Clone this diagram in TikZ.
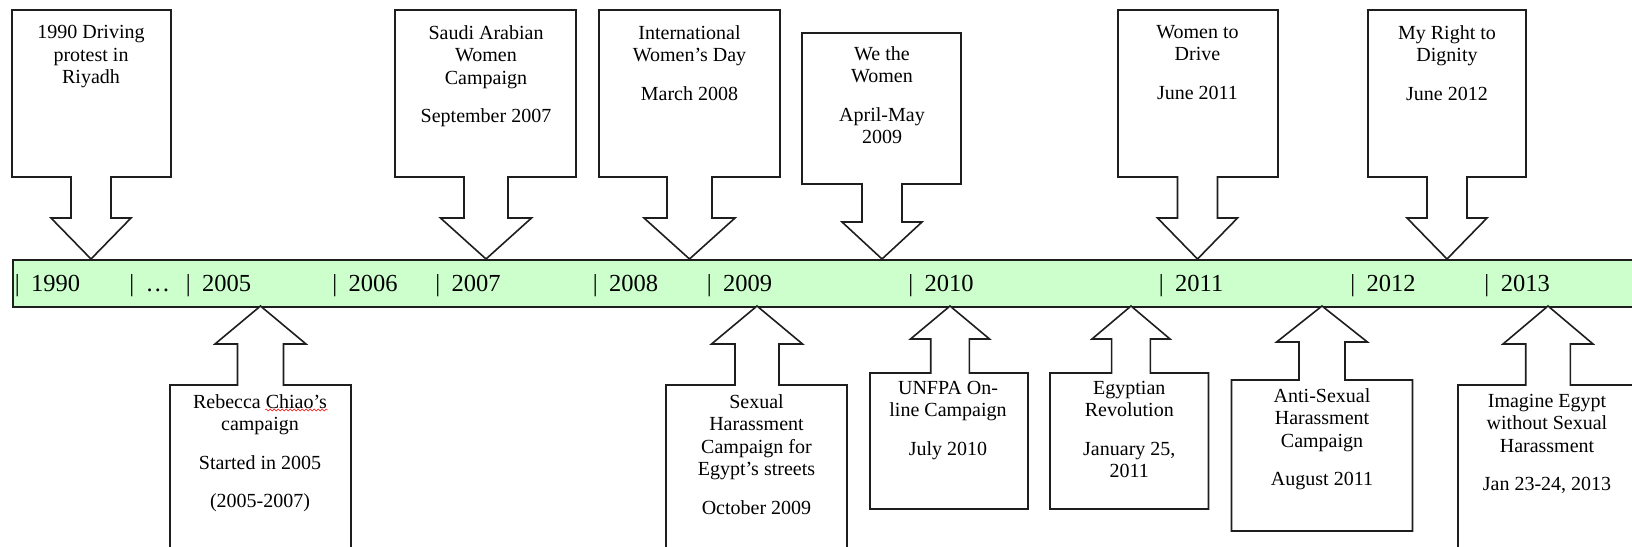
\documentclass[tikz,border=0pt]{standalone}
\usepackage{fontspec}
\setmainfont{Liberation Serif}
\usetikzlibrary{calc}
\usetikzlibrary{decorations.pathmorphing}
\definecolor{barfill}{RGB}{204,255,204}
\definecolor{outline}{RGB}{30,30,30}

\begin{document}
\begin{tikzpicture}[x=1pt, y=-1pt,
  callout/.style={draw=outline, line width=1.6pt, fill=white},
  evtext/.style={anchor=north, align=center, inner sep=0, font=\fontsize{20}{22.5}\selectfont},
  yearlbl/.style={anchor=base west, inner sep=0, font=\fontsize{24.5}{29}\selectfont}]
\clip (0,0) rectangle (1632,546);
% timeline bar
\node[draw=outline, line width=1.6pt, fill=barfill, anchor=north west, inner sep=0,
      minimum width=1640pt, minimum height=47pt] (bar) at (12,259) {};
\foreach \x/\yr [count=\i] in {17/1990, 131.5/…, 188/2005, 334.5/2006, 437.5/2007, 595/2008,
    709/2009, 910.5/2010, 1161/2011, 1352.5/2012, 1486.7/2013}
  \node[yearlbl] (yr\i) at (\x-2.45,291.5) {|\hspace{11.5pt}\yr};
% callouts: tip x / left / right / joint side / far side / shaft / head / head y / tip y
\foreach \tx/\l/\r/\j/\f/\s/\h/\hy/\ty in {
    91/12/171/177/10/20/40/218/259,
    486/395/576/177/10/22/45.5/218/259,
    689.5/599/780/177/10/22.5/45.5/218/259,
    882/802/961/184/33/20/40/222/259,
    1197.5/1118/1278/177/10/20/40/218/259,
    1447/1368/1526/177/10/20/40/218/259,
    260.5/170/351/385/560/23/45.5/344/306,
    757/666/847/385/560/22/45.5/344/306,
    950/870/1028/373/509/19.3/39.5/339/306,
    1131/1050/1208.5/373/509/19.4/39/339/306,
    1322/1231.5/1412.5/380/531/23/45.4/342/306,
    1548/1458/1640/385/560/22.3/45/344/306}
  \draw[callout] (\l,\f) -- (\r,\f) -- (\r,\j) -- (\tx+\s,\j) -- (\tx+\s,\hy) -- (\tx+\h,\hy)
     -- (\tx,\ty) -- (\tx-\h,\hy) -- (\tx-\s,\hy) -- (\tx-\s,\j) -- (\l,\j) -- cycle;
% events above
\node[evtext] (riyadh) at (91,25) {1990 Driving\\protest in\\Riyadh};
\node[evtext] (saudi) at (486,25) {Saudi Arabian\\Women\\Campaign\\[16pt]September 2007};
\node[evtext] (womensday) at (689.5,25) {International\\Women’s Day\\[16pt]March 2008};
\node[evtext] (wethewomen) at (882,46) {We the\\Women\\[16pt]April-May\\2009};
\node[evtext] (todrive) at (1197.5,25) {Women to\\Drive\\[16pt]June 2011};
\node[evtext] (dignity) at (1447,25) {My Right to\\Dignity\\[16pt]June 2012};
% events below
\node[evtext] (chiao) at (260,394) {Rebecca Chiao’s\\campaign\\[16pt]Started in 2005\\[16pt](2005-2007)};
\node[evtext] (streets) at (756.5,394) {Sexual\\Harassment\\Campaign for\\Egypt’s streets\\[16pt]October 2009};
\node[evtext] (unfpa) at (948,381) {UNFPA On-\\line Campaign\\[16pt]July 2010};
\node[evtext] (revolution) at (1129.3,381) {Egyptian\\Revolution\\[16pt]January 25,\\2011};
\node[evtext] (antiharass) at (1322,388) {Anti-Sexual\\Harassment\\Campaign\\[16pt]August 2011};
\node[evtext] (imagine) at (1547,394) {Imagine Egypt\\without Sexual\\Harassment\\[16pt]Jan 23-24, 2013};
% spell check mark
\draw[red, decorate, decoration={snake, amplitude=1pt, segment length=4pt}] (265,410) -- (328,410);
\end{tikzpicture}
\end{document}
